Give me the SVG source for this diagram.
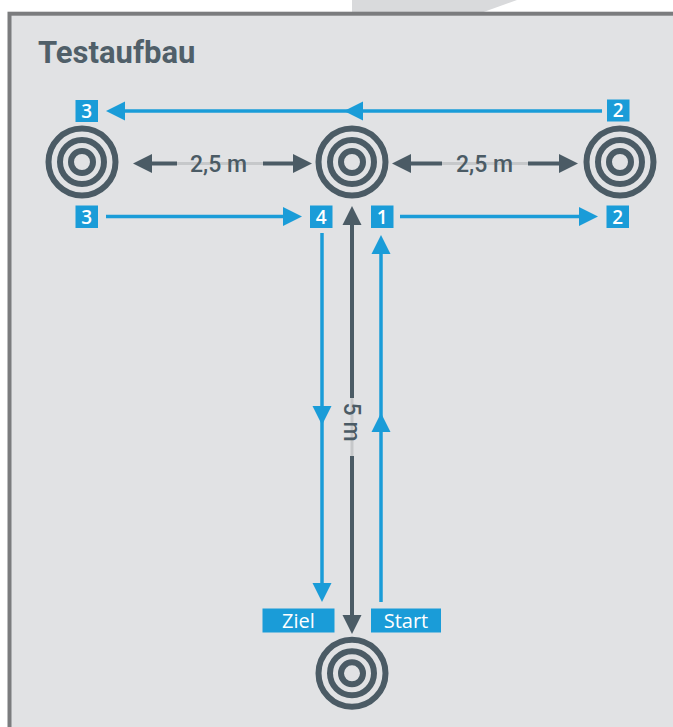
<svg xmlns="http://www.w3.org/2000/svg" xmlns:xlink="http://www.w3.org/1999/xlink" width="673" height="727" viewBox="0 0 673 727">
<style>
.ring{fill:none;stroke:#4b5b65;stroke-width:6}
.box{fill:#1a9cd8}
.lbl{fill:#ffffff;font-family:"Open Sans","Liberation Sans",sans-serif;font-size:19px;font-weight:600;text-anchor:middle}
.tag{fill:#ffffff;font-family:"Open Sans","Liberation Sans",sans-serif;font-size:20px;text-anchor:middle}
.blue{stroke:#1a9cd8;stroke-width:3.5;fill:none}
.gray{stroke:#4b5b65;stroke-width:4;fill:none}
.faint{stroke:#c6c8ca;stroke-width:3;fill:none}
.dim{fill:#4b5b65;font-family:Roboto,"Liberation Sans",sans-serif;font-size:23px;font-weight:500;text-anchor:middle}
</style>
<defs>
<path id="ab" d="M0,0 L-19,-9.5 L-19,9.5 Z" fill="#1a9cd8"/>
<path id="ag" d="M0,0 L-19,-9.5 L-19,9.5 Z" fill="#4b5b65"/>
<g id="target">
<circle class="ring" r="33.5"/>
<circle class="ring" r="22"/>
<circle class="ring" r="11"/>
</g>
</defs>
<rect x="0" y="0" width="673" height="727" fill="#ffffff"/>
<polygon points="352,0 517,0 478,14 352,14" fill="#d9dadc"/>
<rect x="9.5" y="13.7" width="700" height="750" fill="#e1e2e4" stroke="#7b7c7e" stroke-width="4"/>
<text x="38" y="63" font-family="Roboto,'Liberation Sans',sans-serif" font-weight="bold" font-size="31" fill="#505f69">Testaufbau</text>

<g id="connectors">
<!-- top return line 2 -> 3 -->
<line class="blue" x1="602" y1="111" x2="120" y2="111"/>
<use xlink:href="#ab" transform="translate(106,111) rotate(180)"/>
<use xlink:href="#ab" transform="translate(344,111) rotate(180)"/>
<!-- 3 -> 4 -->
<line class="blue" x1="106" y1="216.5" x2="290" y2="216.5"/>
<use xlink:href="#ab" transform="translate(302,216.5)"/>
<!-- 1 -> 2 -->
<line class="blue" x1="400" y1="216.5" x2="585" y2="216.5"/>
<use xlink:href="#ab" transform="translate(598,216.5)"/>
<!-- 4 -> Ziel -->
<line class="blue" x1="322" y1="233" x2="322" y2="590"/>
<use xlink:href="#ab" transform="translate(322,425) rotate(90)"/>
<use xlink:href="#ab" transform="translate(322,602) rotate(90)"/>
<!-- Start -> 1 -->
<line class="blue" x1="381" y1="602" x2="381" y2="248"/>
<use xlink:href="#ab" transform="translate(381,413) rotate(-90)"/>
<use xlink:href="#ab" transform="translate(381,235) rotate(-90)"/>
<!-- dimension 2,5 m left -->
<line class="faint" x1="176" y1="163.5" x2="264" y2="163.5"/>
<line class="gray" x1="148" y1="163.5" x2="177" y2="163.5"/>
<line class="gray" x1="263" y1="163.5" x2="297" y2="163.5"/>
<use xlink:href="#ag" transform="translate(133,163.5) rotate(180)"/>
<use xlink:href="#ag" transform="translate(312,163.5)"/>
<!-- dimension 2,5 m right -->
<line class="faint" x1="441" y1="163.5" x2="529" y2="163.5"/>
<line class="gray" x1="406" y1="163.5" x2="442" y2="163.5"/>
<line class="gray" x1="528" y1="163.5" x2="564" y2="163.5"/>
<use xlink:href="#ag" transform="translate(392,163.5) rotate(180)"/>
<use xlink:href="#ag" transform="translate(578,163.5)"/>
<!-- dimension 5 m vertical -->
<line class="faint" x1="352" y1="396" x2="352" y2="458"/>
<line class="gray" x1="352" y1="222" x2="352" y2="398"/>
<line class="gray" x1="352" y1="456" x2="352" y2="618"/>
<use xlink:href="#ag" transform="translate(352,206) rotate(-90)"/>
<use xlink:href="#ag" transform="translate(352,634) rotate(90)"/>
<text class="dim" x="218.5" y="171.5">2,5 m</text>
<text class="dim" x="484.5" y="171.5">2,5 m</text>
<text class="dim" transform="translate(344,422) rotate(90)">5 m</text>
</g>

<g id="target-left"><use xlink:href="#target" x="82" y="162"/></g>
<g id="target-center"><use xlink:href="#target" x="352" y="162"/></g>
<g id="target-right"><use xlink:href="#target" x="620" y="162"/></g>
<g id="target-bottom"><use xlink:href="#target" x="352" y="673.3"/></g>

<g id="box-3-top"><rect class="box" x="75.5" y="100" width="22.5" height="22"/><text class="lbl" x="86.75" y="117.8">3</text></g>
<g id="box-2-top"><rect class="box" x="607" y="99.5" width="22.5" height="22"/><text class="lbl" x="618.25" y="117.3">2</text></g>
<g id="box-3-bottom"><rect class="box" x="75.5" y="205.5" width="22.5" height="22.5"/><text class="lbl" x="86.75" y="223.8">3</text></g>
<g id="box-4"><rect class="box" x="310" y="205.5" width="22.5" height="22.5"/><text class="lbl" x="321.25" y="223.8">4</text></g>
<g id="box-1"><rect class="box" x="371" y="205.5" width="22.5" height="22.5"/><text class="lbl" x="382.25" y="223.8">1</text></g>
<g id="box-2-bottom"><rect class="box" x="606.5" y="205.5" width="22.5" height="22.5"/><text class="lbl" x="617.75" y="223.8">2</text></g>
<g id="box-ziel"><rect class="box" x="262.5" y="608.5" width="72" height="24"/><text class="tag" x="298.5" y="627.8">Ziel</text></g>
<g id="box-start"><rect class="box" x="371" y="608.5" width="70" height="24"/><text class="tag" x="406" y="627.8">Start</text></g>
</svg>
